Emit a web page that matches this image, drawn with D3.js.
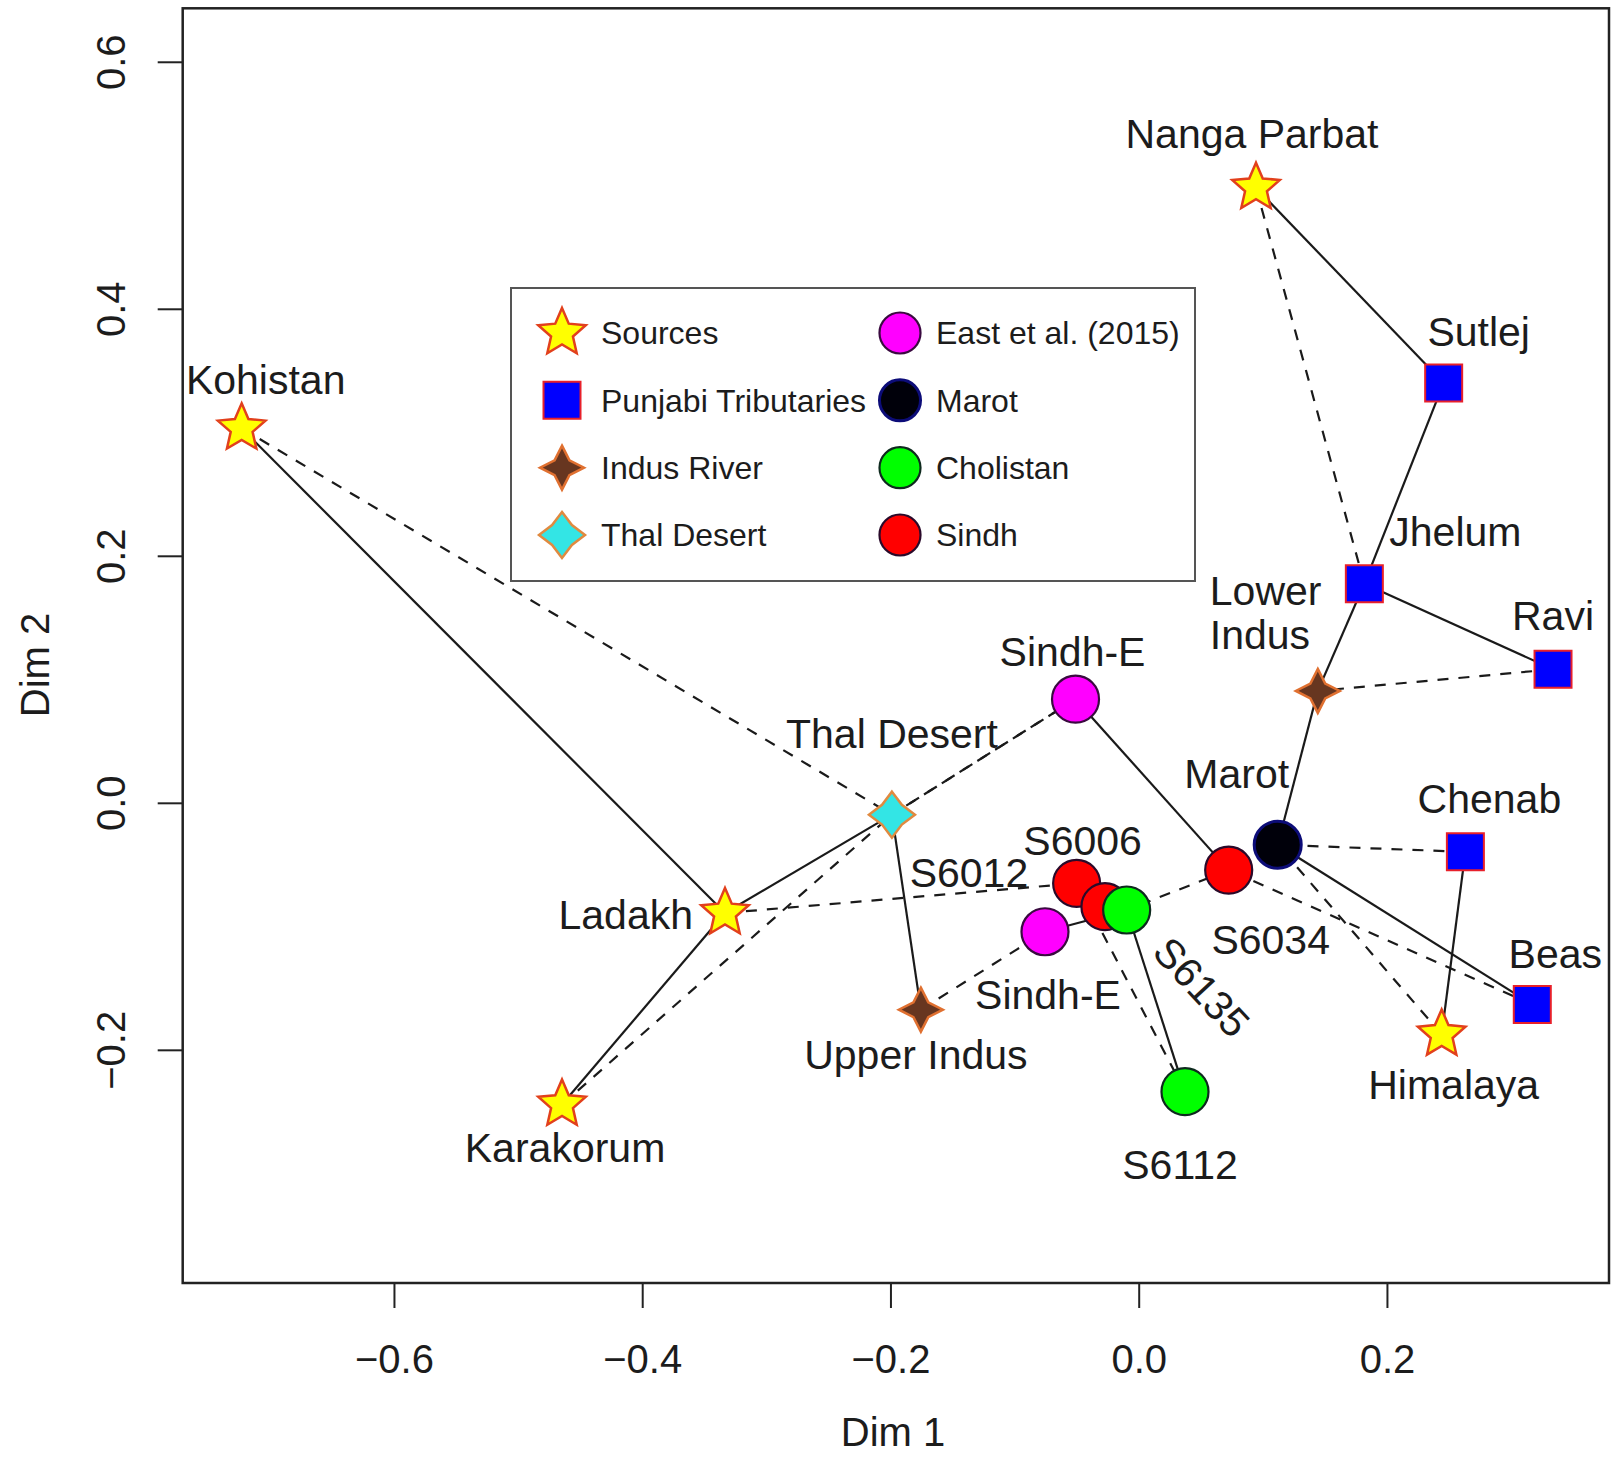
<!DOCTYPE html>
<html>
<head>
<meta charset="utf-8">
<script src="https://cdn.jsdelivr.net/npm/d3@7"></script>
<style>
  body { margin: 0; background: #ffffff; }
  text { font-family: "Liberation Sans", Arial, Helvetica, sans-serif; fill: #1c1c1c; }
</style>
</head>
<body>
<svg id="chart" width="1617" height="1461"></svg>
<script>
// ---- MDS configuration -------------------------------------------------
const ids    = ["Kohistan","Ladakh","Karakorum","NangaParbat","Himalaya",
                "Sutlej","Jhelum","Ravi","Chenab","Beas",
                "LowerIndus","UpperIndus","ThalDesert",
                "SindhE_a","SindhE_b","Marot",
                "S6006","S6012","S6034","S6135","S6112"];
const labels = ["Kohistan","Ladakh","Karakorum","Nanga Parbat","Himalaya",
                "Sutlej","Jhelum","Ravi","Chenab","Beas",
                "Lower\nIndus","Upper Indus","Thal Desert",
                "Sindh-E","Sindh-E","Marot",
                "S6006","S6012","S6034","S6135","S6112"];
const groups = ["Sources","Sources","Sources","Sources","Sources",
                "Punjabi Tributaries","Punjabi Tributaries","Punjabi Tributaries","Punjabi Tributaries","Punjabi Tributaries",
                "Indus River","Indus River","Thal Desert",
                "East et al. (2015)","East et al. (2015)","Marot",
                "Sindh","Sindh","Sindh","Cholistan","Cholistan"];
const dim1 = [-0.7227,-0.3333,-0.4646, 0.0945, 0.2441,
               0.2457, 0.1818, 0.3338, 0.2632, 0.3171,
               0.1443,-0.1755,-0.1988,
              -0.0509,-0.0755, 0.1120,
              -0.0500,-0.0272, 0.0725,-0.0097, 0.0373];
const dim2 = [ 0.3032,-0.0892,-0.2443, 0.4980,-0.1875,
               0.3400, 0.1774, 0.1081,-0.0397,-0.1633,
               0.0906,-0.1675,-0.0096,
               0.0839,-0.1044,-0.0340,
              -0.0652,-0.0841,-0.0545,-0.0868,-0.2339];

// nearest neighbours (solid) and second nearest neighbours (dashed)
const nearest = [["Kohistan","Ladakh"],["Karakorum","Ladakh"],["Ladakh","ThalDesert"],
                 ["UpperIndus","ThalDesert"],["NangaParbat","Sutlej"],["Sutlej","Jhelum"],
                 ["Ravi","Jhelum"],["Jhelum","LowerIndus"],["LowerIndus","Marot"],
                 ["Beas","Marot"],["Chenab","Himalaya"],["SindhE_a","S6034"],
                 ["SindhE_b","S6135"],["S6112","S6135"],["S6006","S6012"],["S6012","S6135"]];
const second  = [["Kohistan","ThalDesert"],["Karakorum","ThalDesert"],["Ladakh","S6006"],
                 ["ThalDesert","SindhE_a"],["SindhE_a","ThalDesert"],["NangaParbat","Jhelum"],
                 ["Ravi","LowerIndus"],["Chenab","Marot"],["Himalaya","Marot"],
                 ["Beas","S6034"],["S6034","S6135"],["UpperIndus","SindhE_b"],["S6112","S6006"]];

const xTicks = [-0.6,-0.4,-0.2,0.0,0.2];
const yTicks = [-0.2,0.0,0.2,0.4,0.6];
const legendLeft  = ["Sources","Punjabi Tributaries","Indus River","Thal Desert"];
const legendRight = ["East et al. (2015)","Marot","Cholistan","Sindh"];

// ---- layout ------------------------------------------------------------
const box = { left: 182.7, right: 1609, top: 8.3, bottom: 1283 };
const x = d3.scaleLinear().domain([-0.7702, 0.3789]).range([box.left, box.right]);
const y = d3.scaleLinear().domain([-0.3888, 0.6433]).range([box.bottom, box.top]);

// label placement relative to each point (pixels): [dx, dy, anchor, rotation]
const labelPlace = {
  Kohistan:[24,-49,"middle",0], Ladakh:[-32,2,"end",0], Karakorum:[3,43,"middle",0],
  NangaParbat:[-4,-54,"middle",0], Himalaya:[12,50,"middle",0],
  Sutlej:[35,-51,"middle",0], Jhelum:[91,-52,"middle",0], Ravi:[0,-54,"middle",0],
  Chenab:[24,-53,"middle",0], Beas:[23,-51,"middle",0],
  LowerIndus:[-108,-100,"start",0], UpperIndus:[-5,45,"middle",0], ThalDesert:[0,-81,"middle",0],
  SindhE_a:[-3,-48,"middle",0], SindhE_b:[3,63,"middle",0], Marot:[-41,-71,"middle",0],
  S6006:[6,-43,"middle",0], S6012:[-136,-34,"middle",0], S6034:[42,70,"middle",0],
  S6135:[75,77,"middle",47], S6112:[-5,73,"middle",0]
};

const styles = {
  "Sources":             { shape:"star5",  fill:"#FFFF00", stroke:"#E2401C", sw:2.5 },
  "Punjabi Tributaries": { shape:"square", fill:"#0000FF", stroke:"#E8202A", sw:2 },
  "Indus River":         { shape:"star4",  fill:"#673620", stroke:"#E07030", sw:2.5 },
  "Thal Desert":         { shape:"star4t", fill:"#33E5E5", stroke:"#E08A40", sw:2.5 },
  "East et al. (2015)":  { shape:"circle", fill:"#FF00FF", stroke:"#3A0A40", sw:2.2 },
  "Marot":               { shape:"circle", fill:"#00000A", stroke:"#0C0C78", sw:3 },
  "Cholistan":           { shape:"circle", fill:"#00FF00", stroke:"#0E2A1E", sw:2.2 },
  "Sindh":               { shape:"circle", fill:"#FF0000", stroke:"#2A0A2A", sw:2.2 }
};

// star polygon with n points, outer radius R and inner radius r, first tip up
function starPath(n, R, r) {
  const pts = [];
  for (let i = 0; i < 2 * n; i++) {
    const a = -Math.PI / 2 + i * Math.PI / n;
    const rad = i % 2 === 0 ? R : r;
    pts.push([rad * Math.cos(a), rad * Math.sin(a)]);
  }
  return d3.line()(pts) + "Z";
}
function shapePath(shape, circleR) {
  switch (shape) {
    case "star5":  return starPath(5, 25, 11.5);
    case "star4":  return starPath(4, 22, 10.5);
    case "star4t": return starPath(4, 23, 14);
    case "square": return "M-18.5,-18.5H18.5V18.5H-18.5Z";
    default:       return d3.arc()({innerRadius:0, outerRadius:circleR, startAngle:0, endAngle:2*Math.PI});
  }
}

const svg = d3.select("#chart");
const pts = ids.map((id, i) => ({ id, label: labels[i], group: groups[i], px: x(dim1[i]), py: y(dim2[i]) }));
const byId = Object.fromEntries(pts.map(p => [p.id, p]));

// ---- axes ----------------------------------------------------------------
const fmt = d3.format(".1f");
const xAxis = svg.append("g").attr("transform", `translate(0,${box.bottom})`)
  .call(d3.axisBottom(x).tickValues(xTicks).tickSize(25).tickFormat(fmt));
xAxis.select(".domain").remove();
xAxis.selectAll("line").attr("stroke", "#222").attr("stroke-width", 2);
xAxis.selectAll("text").attr("y", 76).attr("dy", "0.35em")
  .attr("font-size", 40).attr("font-family", null).attr("fill", "#1c1c1c");

const yAxis = svg.append("g").attr("transform", `translate(${box.left},0)`)
  .call(d3.axisLeft(y).tickValues(yTicks).tickSize(25).tickFormat(fmt));
yAxis.select(".domain").remove();
yAxis.selectAll("line").attr("stroke", "#222").attr("stroke-width", 2);
yAxis.selectAll("text").attr("x", 0).attr("y", 0).attr("dy", "0.35em")
  .attr("text-anchor", "middle").attr("transform", `translate(${111 - box.left},0) rotate(-90)`)
  .attr("font-size", 40).attr("font-family", null).attr("fill", "#1c1c1c");

svg.append("text").attr("x", 893).attr("y", 1432).attr("dy", "0.35em")
  .attr("text-anchor", "middle").attr("font-size", 40).text("Dim 1");
svg.append("text").attr("transform", "translate(35,665) rotate(-90)").attr("dy", "0.35em")
  .attr("text-anchor", "middle").attr("font-size", 40).text("Dim 2");

// ---- neighbour links -------------------------------------------------------
const linkG = svg.append("g").attr("fill", "none").attr("stroke", "#1a1a1a").attr("stroke-width", 2.2);
linkG.selectAll("line.solid").data(nearest).join("line").attr("class", "solid")
  .attr("x1", d => byId[d[0]].px).attr("y1", d => byId[d[0]].py)
  .attr("x2", d => byId[d[1]].px).attr("y2", d => byId[d[1]].py);
linkG.selectAll("line.dash").data(second).join("line").attr("class", "dash")
  .attr("stroke-dasharray", "11,10")
  .attr("x1", d => byId[d[0]].px).attr("y1", d => byId[d[0]].py)
  .attr("x2", d => byId[d[1]].px).attr("y2", d => byId[d[1]].py);

// ---- points ---------------------------------------------------------------
const drawOrder = ["Sources","Punjabi Tributaries","Indus River","Thal Desert","East et al. (2015)","Marot","Sindh","Cholistan"];
const ordered = drawOrder.flatMap(g => pts.filter(p => p.group === g));
svg.append("g").selectAll("path").data(ordered).join("path")
  .attr("transform", d => `translate(${d.px},${d.py})`)
  .attr("d", d => shapePath(styles[d.group].shape, 23.5))
  .attr("fill", d => styles[d.group].fill)
  .attr("stroke", d => styles[d.group].stroke)
  .attr("stroke-width", d => styles[d.group].sw)
  .attr("stroke-linejoin", "miter");

// ---- point labels ------------------------------------------------------------
const lab = svg.append("g").attr("font-size", 41);
pts.forEach(p => {
  const [dx, dy, anchor, rot] = labelPlace[p.id];
  const t = lab.append("text")
    .attr("transform", `translate(${p.px + dx},${p.py + dy}) rotate(${rot})`)
    .attr("text-anchor", anchor);
  p.label.split("\n").forEach((line, k) => {
    t.append("tspan").attr("x", 0).attr("y", k * 44).attr("dy", "0.35em").text(line);
  });
});

// ---- legend -----------------------------------------------------------------
const leg = svg.append("g");
leg.append("rect").attr("x", 511).attr("y", 288).attr("width", 684).attr("height", 293)
  .attr("fill", "#ffffff").attr("stroke", "#555").attr("stroke-width", 2);
const rowY = d3.scalePoint().domain(d3.range(4)).range([333, 535]);
function legendColumn(list, sx, tx) {
  list.forEach((g, i) => {
    const st = styles[g];
    leg.append("path").attr("transform", `translate(${sx},${rowY(i)})`)
      .attr("d", shapePath(st.shape, 20.5))
      .attr("fill", st.fill).attr("stroke", st.stroke).attr("stroke-width", st.sw);
    leg.append("text").attr("x", tx).attr("y", rowY(i)).attr("dy", "0.35em")
      .attr("font-size", 32).text(g);
  });
}
legendColumn(legendLeft, 562, 601);
legendColumn(legendRight, 900, 936);

// ---- plot frame -------------------------------------------------------------
svg.append("rect").attr("x", box.left).attr("y", box.top)
  .attr("width", box.right - box.left).attr("height", box.bottom - box.top)
  .attr("fill", "none").attr("stroke", "#222").attr("stroke-width", 2.5);
</script>
</body>
</html>
